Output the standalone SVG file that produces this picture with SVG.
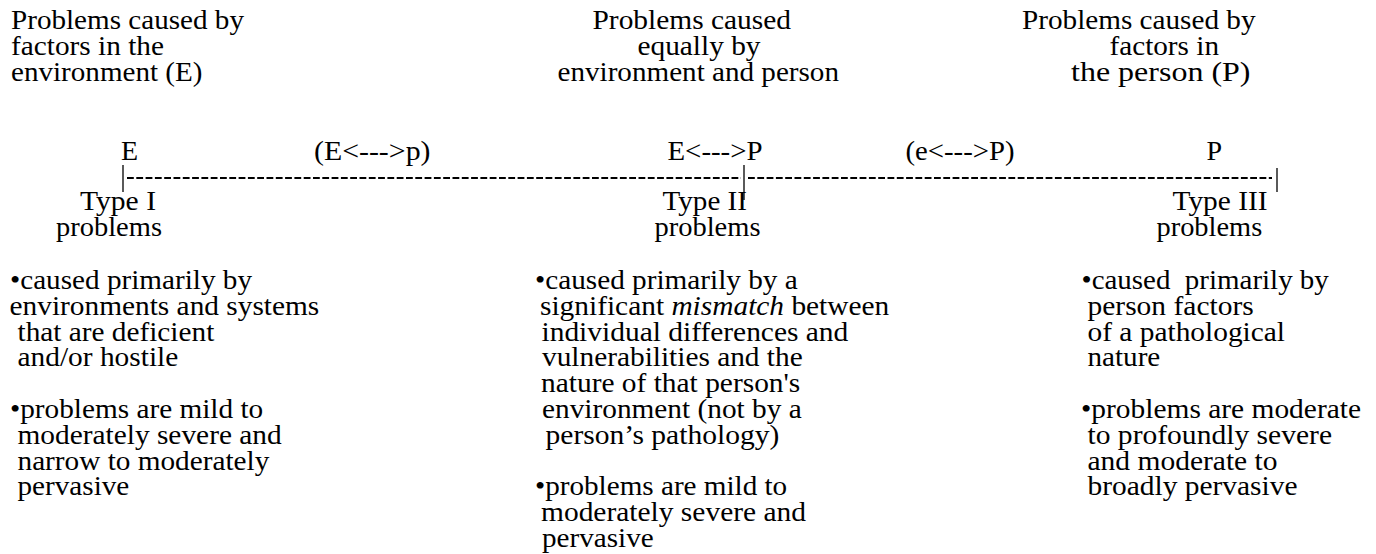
<svg xmlns="http://www.w3.org/2000/svg" width="1376" height="554" viewBox="0 0 1376 554">
<style>
text{font-family:"Liberation Serif","Times New Roman",serif;font-size:28px;fill:#000}
.tick{stroke:#000;stroke-width:1.3}
.dash{stroke:#000;stroke-width:1.8;stroke-dasharray:6.8 2.5}
</style>
<rect width="1376" height="554" fill="#fff"/>
<g id="head-e">
<text x="11" y="29" textLength="233" lengthAdjust="spacingAndGlyphs">Problems caused by</text>
<text x="11" y="54.8" textLength="153" lengthAdjust="spacingAndGlyphs">factors in the</text>
<text x="11" y="80.6" textLength="191.5" lengthAdjust="spacingAndGlyphs">environment (E)</text>
</g>
<g id="head-ep">
<text x="592.5" y="29" textLength="198.5" lengthAdjust="spacingAndGlyphs">Problems caused</text>
<text x="637.5" y="54.8" textLength="123" lengthAdjust="spacingAndGlyphs">equally by</text>
<text x="557.5" y="80.6" textLength="281.5" lengthAdjust="spacingAndGlyphs">environment and person</text>
</g>
<g id="head-p">
<text x="1022" y="29" textLength="233.5" lengthAdjust="spacingAndGlyphs">Problems caused by</text>
<text x="1109.5" y="54.8" textLength="109.5" lengthAdjust="spacingAndGlyphs">factors in</text>
<text x="1071" y="80.6" textLength="179.5" lengthAdjust="spacingAndGlyphs">the person (P)</text>
</g>
<g id="axis-labels">
<text x="121" y="160">E</text>
<text x="314" y="160" textLength="116.5" lengthAdjust="spacingAndGlyphs">(E&lt;---&gt;p)</text>
<text x="667.5" y="160" textLength="95" lengthAdjust="spacingAndGlyphs">E&lt;---&gt;P</text>
<text x="905.5" y="160" textLength="109" lengthAdjust="spacingAndGlyphs">(e&lt;---&gt;P)</text>
<text x="1206.5" y="160">P</text>
</g>
<g id="connectors">
<line class="tick" x1="123" y1="165" x2="123" y2="192"/>
<line class="tick" x1="744" y1="165" x2="744" y2="200"/>
<line class="tick" x1="1277" y1="168" x2="1277" y2="192"/>
<line class="dash" x1="127" y1="178" x2="741" y2="178"/>
<line class="dash" x1="748" y1="178" x2="1272" y2="178"/>
</g>
<g id="type1">
<text x="80" y="210" textLength="76" lengthAdjust="spacingAndGlyphs">Type I</text>
<text x="56" y="235.8" textLength="106" lengthAdjust="spacingAndGlyphs">problems</text>
</g>
<g id="type2">
<text x="662.5" y="210" textLength="84.5" lengthAdjust="spacingAndGlyphs">Type II</text>
<text x="654.5" y="235.8" textLength="106" lengthAdjust="spacingAndGlyphs">problems</text>
</g>
<g id="type3">
<text x="1172.5" y="210" textLength="95" lengthAdjust="spacingAndGlyphs">Type III</text>
<text x="1156.5" y="235.8" textLength="105.7" lengthAdjust="spacingAndGlyphs">problems</text>
</g>
<g id="desc1">
<text x="10" y="289" textLength="242" lengthAdjust="spacingAndGlyphs">•caused primarily by</text>
<text x="9.5" y="314.8" textLength="309.8" lengthAdjust="spacingAndGlyphs">environments and systems</text>
<text x="17.5" y="340.6" textLength="196.8" lengthAdjust="spacingAndGlyphs">that are deficient</text>
<text x="17.5" y="366.4" textLength="160.8" lengthAdjust="spacingAndGlyphs">and/or hostile</text>
<text x="10" y="418" textLength="253.2" lengthAdjust="spacingAndGlyphs">•problems are mild to</text>
<text x="17.5" y="443.8" textLength="264.2" lengthAdjust="spacingAndGlyphs">moderately severe and</text>
<text x="17.5" y="469.6" textLength="251.8" lengthAdjust="spacingAndGlyphs">narrow to moderately</text>
<text x="17.5" y="495.4" textLength="111.8" lengthAdjust="spacingAndGlyphs">pervasive</text>
</g>
<g id="desc2">
<text x="535" y="289" textLength="262.7" lengthAdjust="spacingAndGlyphs">•caused primarily by a</text>
<text x="540" y="314.8" textLength="349.3" lengthAdjust="spacingAndGlyphs">significant <tspan font-style="italic">mismatch</tspan> between</text>
<text x="541.5" y="340.6" textLength="306.8" lengthAdjust="spacingAndGlyphs">individual differences and</text>
<text x="542" y="366.4" textLength="260.7" lengthAdjust="spacingAndGlyphs">vulnerabilities and the</text>
<text x="541" y="392.2" textLength="259.3" lengthAdjust="spacingAndGlyphs">nature of that person's</text>
<text x="542" y="418" textLength="259.7" lengthAdjust="spacingAndGlyphs">environment (not by a</text>
<text x="545.5" y="443.8" textLength="233.8" lengthAdjust="spacingAndGlyphs">person’s pathology)</text>
<text x="535" y="495.4" textLength="252.2" lengthAdjust="spacingAndGlyphs">•problems are mild to</text>
<text x="541" y="521.2" textLength="265" lengthAdjust="spacingAndGlyphs">moderately severe and</text>
<text x="542" y="547" textLength="111.7" lengthAdjust="spacingAndGlyphs">pervasive</text>
</g>
<g id="desc3">
<text x="1081.5" y="289" textLength="247.3" lengthAdjust="spacingAndGlyphs" xml:space="preserve">•caused  primarily by</text>
<text x="1087.5" y="314.8" textLength="166.2" lengthAdjust="spacingAndGlyphs">person factors</text>
<text x="1087.5" y="340.6" textLength="197.5" lengthAdjust="spacingAndGlyphs">of a pathological</text>
<text x="1087.5" y="366.4" textLength="72.8" lengthAdjust="spacingAndGlyphs">nature</text>
<text x="1081" y="418" textLength="280" lengthAdjust="spacingAndGlyphs">•problems are moderate</text>
<text x="1087.5" y="443.8" textLength="244.5" lengthAdjust="spacingAndGlyphs">to profoundly severe</text>
<text x="1087.5" y="469.6" textLength="190" lengthAdjust="spacingAndGlyphs">and moderate to</text>
<text x="1087.5" y="495.4" textLength="210" lengthAdjust="spacingAndGlyphs">broadly pervasive</text>
</g>
</svg>
